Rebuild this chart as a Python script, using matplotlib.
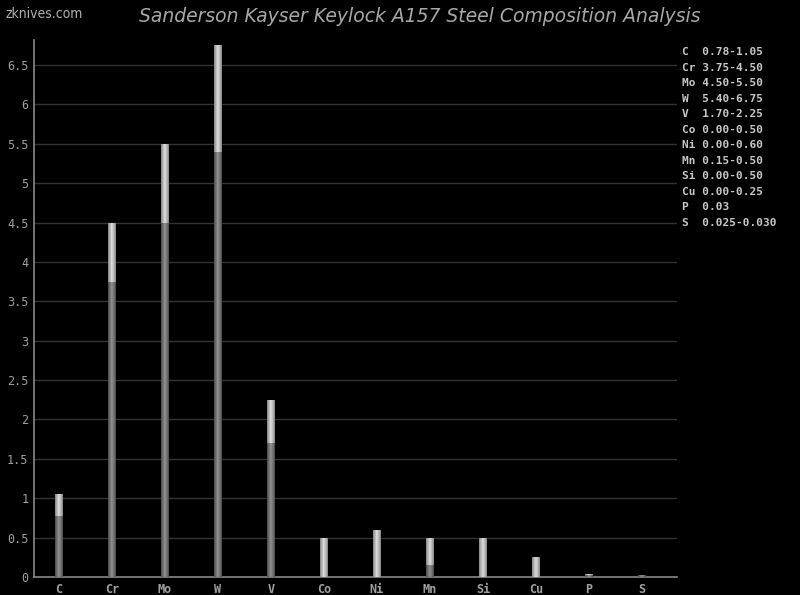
import matplotlib
matplotlib.use("Agg")
import matplotlib.pyplot as plt
import numpy as np

elements = ["C", "Cr", "Mo", "W", "V", "Co", "Ni", "Mn", "Si", "Cu", "P", "S"]
min_vals = [0.78, 3.75, 4.50, 5.40, 1.70, 0.00, 0.00, 0.15, 0.00, 0.00, 0.03, 0.025]
max_vals = [1.05, 4.50, 5.50, 6.75, 2.25, 0.50, 0.60, 0.50, 0.50, 0.25, 0.03, 0.030]
legend_lines = ["C  0.78-1.05", "Cr 3.75-4.50", "Mo 4.50-5.50", "W  5.40-6.75",
                "V  1.70-2.25", "Co 0.00-0.50", "Ni 0.00-0.60", "Mn 0.15-0.50",
                "Si 0.00-0.50", "Cu 0.00-0.25", "P  0.03", "S  0.025-0.030"]
yticks = [0, 0.5, 1, 1.5, 2, 2.5, 3, 3.5, 4, 4.5, 5, 5.5, 6, 6.5]
ytick_labels = ["0", "0.5", "1", "1.5", "2", "2.5", "3", "3.5", "4", "4.5", "5", "5.5", "6", "6.5"]

fig = plt.figure(figsize=(8, 5.95), dpi=100, facecolor="black")
ax = fig.add_axes([34/800, 1-577/595, (677-34)/800, (577-40)/595])
ax.set_facecolor("black")

x = np.arange(len(elements))
width = 0.16
nstrips = 9
offs = (np.arange(nstrips) + 0.5) / nstrips - 0.5
prof = 1 - np.abs(offs * 2) ** 1.5  # cylinder-ish shading

def shade(lo, hi, t):
    v = lo + (hi - lo) * t
    return (v, v, v)

mins = np.array(min_vals)
maxs = np.array(max_vals)
rng = np.maximum(maxs - mins, 0)
for k in range(nstrips):
    xs = x + offs[k] * width
    ax.bar(xs, mins, width=width / nstrips, bottom=0,
           color=shade(0.28, 0.55, prof[k]), linewidth=0, zorder=3)
    ax.bar(xs, np.where(rng > 0, rng, 0.006), width=width / nstrips,
           bottom=np.where(rng > 0, mins, mins - 0.003),
           color=shade(0.50, 0.85, prof[k]), linewidth=0, zorder=3)

ax.set_xlim(-0.47, 11.66)
ax.set_ylim(0, (577-40)/78.77)
ax.set_yticks(yticks)
ax.set_yticklabels(ytick_labels)
ax.set_xticks(x)
ax.set_xticklabels(elements)
ax.grid(axis="y", color="#333333", linewidth=1, zorder=0)
ax.tick_params(length=0, colors="#a0a0a0", labelsize=8.5, pad=4)
for lab in ax.get_xticklabels() + ax.get_yticklabels():
    lab.set_family("DejaVu Sans Mono")
for lab in ax.get_xticklabels():
    lab.set_fontweight("bold")
for s in ["top", "right"]:
    ax.spines[s].set_visible(False)
for s in ["left", "bottom"]:
    ax.spines[s].set_color("#888888")
    ax.spines[s].set_linewidth(1.2)

fig.text(420/800, 1-17/595, "Sanderson Kayser Keylock A157 Steel Composition Analysis",
         ha="center", va="center", color="#a8a8a8", fontsize=13.5, style="italic",
         family="DejaVu Sans")

fig.text(5/800, 1-14/595, "zknives.com", ha="left", va="center", color="#b0b0b0",
         fontsize=10, family="DejaVu Sans", fontstretch="condensed")

for i, line in enumerate(legend_lines):
    fig.text(682/800, 1-(52 + i*15.55)/595, line, ha="left", va="center",
             color="#c8c8c8", fontsize=8, family="DejaVu Sans Mono", fontweight="bold")

fig.savefig("out.png", dpi=100, facecolor="black")
